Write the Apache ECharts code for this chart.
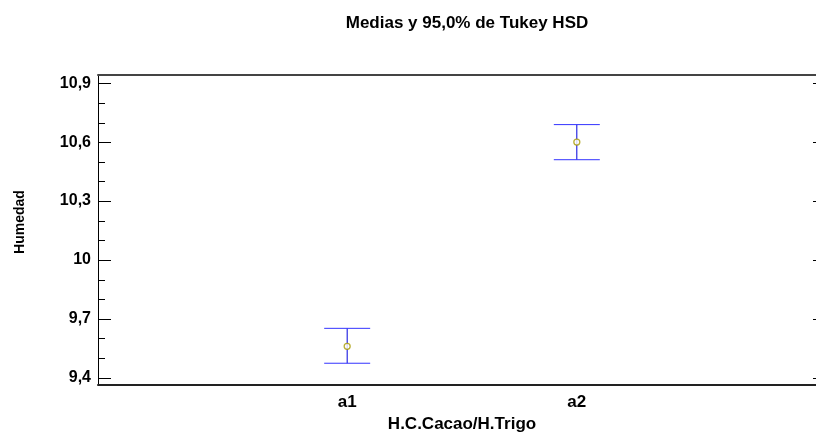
<!DOCTYPE html>
<html>
<head>
<meta charset="utf-8">
<script src="https://cdn.jsdelivr.net/npm/echarts@6/dist/echarts.min.js"></script>
<style>
html,body{margin:0;padding:0;background:#fff;}
#chart{width:816px;height:433px;}
</style>
</head>
<body>
<div id="chart"></div>
<script>
const categories = ['a1', 'a2'];
const xPositions = [1, 2];
const means = [9.559, 10.601];
const lowerLimits = [9.473, 10.511];
const upperLimits = [9.651, 10.690];
const yMajorTicks = [9.4, 9.7, 10, 10.3, 10.6, 10.9];
const yMinorTicks = [9.5, 9.6, 9.8, 9.9, 10.1, 10.2, 10.4, 10.5, 10.7, 10.8];

const FONT = '"Liberation Sans", Arial, sans-serif';
const chart = echarts.init(document.getElementById('chart'), null, {renderer: 'canvas'});

const yMin = 9.362, yMax = 10.943;
const xMin = -0.085, xMax = 3.085;

const errData = xPositions.map((x, i) => [x, lowerLimits[i], upperLimits[i]]);
const meanData = xPositions.map((x, i) => [x, means[i]]);
// tick marks: [value, kind] kind 2 = left major, 1 = left minor, 3 = right major
const tickData = []
  .concat(yMajorTicks.map(v => [v, 2]))
  .concat(yMinorTicks.map(v => [v, 1]))
  .concat(yMajorTicks.map(v => [v, 3]));

const option = {
  backgroundColor: '#ffffff',
  animation: false,
  title: {
    text: 'Medias y 95,0% de Tukey HSD',
    left: 462,
    top: 10,
    textAlign: 'center',
    textStyle: {fontFamily: FONT, fontWeight: 'bold', fontSize: 17, color: '#000'}
  },
  grid: {left: 98, right: -10, top: 75, bottom: 48, containLabel: false, outerBoundsMode: 'none'},
  xAxis: [
    {
      type: 'value', position: 'bottom', offset: 0, min: xMin, max: xMax,
      axisLine: {show: true, onZero: false, lineStyle: {color: '#222', width: 2}},
      axisTick: {show: false},
      splitLine: {show: false},
      axisLabel: {
        customValues: xPositions,
        formatter: v => categories[Math.round(v) - 1] || '',
        fontFamily: FONT, fontWeight: 'bold', fontSize: 17, color: '#000', margin: 9
      },
      name: 'H.C.Cacao/H.Trigo', nameLocation: 'middle', nameGap: 25,
      nameTextStyle: {fontFamily: FONT, fontWeight: 'bold', fontSize: 17, color: '#000'}
    },
    {
      type: 'value', position: 'top', offset: 0, min: xMin, max: xMax,
      axisLine: {show: true, onZero: false, lineStyle: {color: '#444', width: 2}},
      axisTick: {show: false}, axisLabel: {show: false}, splitLine: {show: false}
    }
  ],
  yAxis: [
    {
      type: 'value', position: 'left', offset: 0, min: yMin, max: yMax,
      axisLine: {show: true, onZero: false, lineStyle: {color: '#000', width: 1}},
      axisTick: {show: false},
      axisLabel: {
        customValues: yMajorTicks,
        formatter: v => String(Math.round(v * 10) / 10).replace('.', ','),
        fontFamily: FONT, fontWeight: 'bold', fontSize: 16, color: '#000', margin: 7
      },
      splitLine: {show: false},
      name: 'Humedad', nameLocation: 'middle', nameGap: 71, nameRotate: 90,
      nameTextStyle: {fontFamily: FONT, fontWeight: 'bold', fontSize: 14, color: '#000', padding: [0, 0, 0, 16]}
    },
    {
      type: 'value', position: 'right', offset: 0, min: yMin, max: yMax,
      axisLine: {show: true, onZero: false, lineStyle: {color: '#000', width: 1}},
      axisTick: {show: false},
      axisLabel: {show: false}, splitLine: {show: false}
    }
  ],
  series: [
    {
      type: 'custom',
      xAxisIndex: 0, yAxisIndex: 0,
      data: tickData,
      silent: true,
      renderItem: function (params, api) {
        const v = api.value(0);
        const kind = api.value(1);
        let p, len, dir;
        if (kind === 3) { p = api.coord([xMax, v]); len = 13; dir = -1; }
        else { p = api.coord([xMin, v]); len = kind === 2 ? 13 : 7; dir = 1; }
        const y = Math.round(p[1]) + 0.5;
        return {
          type: 'line',
          shape: {x1: p[0], y1: y, x2: p[0] + dir * len, y2: y},
          style: {stroke: '#000', lineWidth: 1}
        };
      },
      z: 1
    },
    {
      type: 'custom',
      xAxisIndex: 0, yAxisIndex: 0,
      data: errData,
      renderItem: function (params, api) {
        const x = api.value(0);
        const lo = api.coord([x, api.value(1)]);
        const hi = api.coord([x, api.value(2)]);
        const hw = 23;
        return {
          type: 'group',
          children: [
            {type: 'line', shape: {x1: hi[0], y1: hi[1], x2: lo[0], y2: lo[1]}, style: {stroke: '#0000dd', lineWidth: 1}},
            {type: 'line', shape: {x1: hi[0] - hw, y1: hi[1], x2: hi[0] + hw, y2: hi[1]}, style: {stroke: '#3333ff', lineWidth: 1}},
            {type: 'line', shape: {x1: lo[0] - hw, y1: lo[1], x2: lo[0] + hw, y2: lo[1]}, style: {stroke: '#3333ff', lineWidth: 1}}
          ]
        };
      },
      z: 2
    },
    {
      type: 'scatter',
      xAxisIndex: 0, yAxisIndex: 0,
      data: meanData,
      symbol: 'circle', symbolSize: 6,
      itemStyle: {color: '#ffffff', borderColor: '#a89a00', borderWidth: 1.3},
      z: 3
    }
  ]
};
chart.setOption(option);
</script>
</body>
</html>
